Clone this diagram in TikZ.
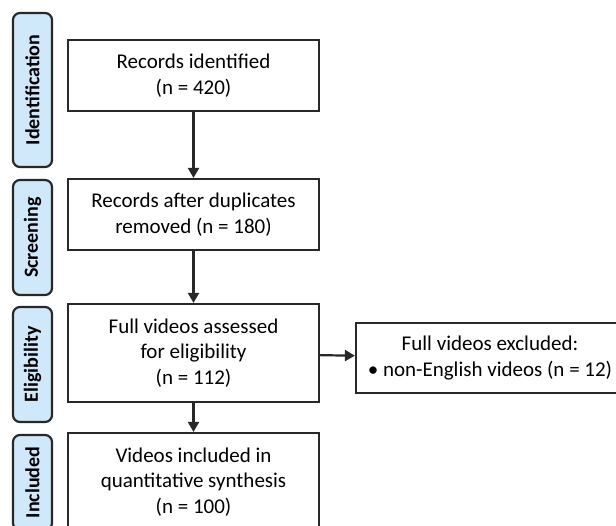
\documentclass[tikz,border=0pt]{standalone}
\usepackage{fontspec}
\setmainfont{Carlito}
\usetikzlibrary{arrows.meta}
\definecolor{phaseblue}{RGB}{207,232,250}
\definecolor{linegray}{RGB}{40,40,40}
\begin{document}
\begin{tikzpicture}[x=1pt,y=-1pt,
  phase/.style={draw=linegray,line width=2.2pt,fill=phaseblue,rounded corners=7pt,
    rotate=90,minimum height=39pt,inner sep=0pt,font=\fontsize{20}{22}\selectfont\bfseries},
  stagebox/.style={draw=linegray,line width=2.2pt,fill=white,minimum width=251pt,
    inner sep=0pt,align=center,font=\fontsize{21}{25.5}\selectfont},
  flow/.style={draw=linegray,line width=2.2pt,-{Triangle[width=11pt,length=10pt]}}]
\useasboundingbox (0,0) rectangle (616,525);
\clip (0,0) rectangle (616,525);
\node [phase,minimum width=154pt] (ident) at (32.5,90) {Identification};
\node [phase,minimum width=115pt] (screen) at (32.5,237.5) {Screening};
\node [phase,minimum width=115pt] (elig) at (32.5,364.5) {Eligibility};
\node [phase,minimum width=95pt] (incl) at (32.5,482.5) {Included};
\node [stagebox,minimum height=71pt] (records) at (193.5,75.5) {Records identified\\(n = 420)};
\node [stagebox,minimum height=71pt] (dedup) at (193.5,214.5) {Records after duplicates\\removed (n = 180)};
\node [stagebox,minimum height=98pt] (assessed) at (193.5,353) {Full videos assessed\\for eligibility\\(n = 112)};
\node [stagebox,minimum height=98pt] (included) at (193.5,482) {Videos included in\\quantitative synthesis\\(n = 100)};
\node [stagebox,minimum width=268pt,minimum height=70pt] (excluded) at (490,358) {Full videos excluded:\\\textbullet{} non-English videos (n = 12)};
\draw [flow] (records) -- (dedup);
\draw [flow] (dedup) -- (assessed);
\draw [flow] (assessed) -- (included);
\draw [flow] (assessed) -- (excluded);
\end{tikzpicture}
\end{document}
